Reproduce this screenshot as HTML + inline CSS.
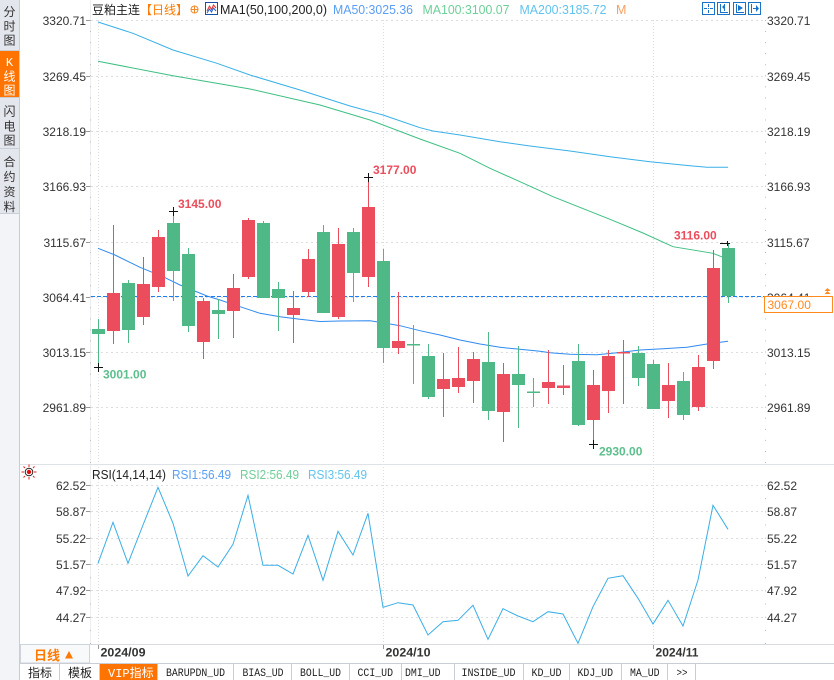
<!DOCTYPE html>
<html><head><meta charset="utf-8"><style>
html,body{margin:0;padding:0;background:#fff;width:834px;height:680px;overflow:hidden}
svg{display:block}
text{font-family:"Liberation Sans","Noto Sans CJK SC",sans-serif}
.ax{font-size:12px;fill:#333}
.cj{font-family:"Liberation Sans","Noto Sans CJK SC",sans-serif}
.mono{font-family:"Liberation Mono","Noto Sans CJK SC",monospace;font-size:11px;fill:#222}
</style></head><body>
<svg width="834" height="680" viewBox="0 0 834 680" xmlns="http://www.w3.org/2000/svg">
<!-- sidebar -->
<rect x="0" y="0" width="19.5" height="680" fill="#f3f4f8"/>
<rect x="0" y="0" width="19.5" height="50" fill="#e4e6ed"/>
<rect x="0" y="51" width="19.5" height="46" fill="#ff7300"/>
<rect x="0" y="98" width="19.5" height="50" fill="#e4e6ed"/>
<rect x="0" y="149" width="19.5" height="64" fill="#e4e6ed"/>
<g stroke="#c9cdd6" stroke-width="1">
<line x1="0" y1="50.5" x2="19.5" y2="50.5"/>
<line x1="0" y1="97.5" x2="19.5" y2="97.5"/>
<line x1="0" y1="148.5" x2="19.5" y2="148.5"/>
<line x1="0" y1="213.5" x2="19.5" y2="213.5"/>
<line x1="19.5" y1="0" x2="19.5" y2="680"/>
</g>
<g font-size="12" text-anchor="middle" fill="#333">
<text x="9.5" y="16">分</text><text x="9.5" y="30.5">时</text><text x="9.5" y="44.5">图</text>
<text x="9.5" y="66" fill="#fff" style="font-family:'Liberation Mono',monospace">K</text><text x="9.5" y="80.5" fill="#fff">线</text><text x="9.5" y="94.5" fill="#fff">图</text>
<text x="9.5" y="115.5">闪</text><text x="9.5" y="130.5">电</text><text x="9.5" y="144.5">图</text>
<text x="9.5" y="166">合</text><text x="9.5" y="181">约</text><text x="9.5" y="196">资</text><text x="9.5" y="211">料</text>
</g>

<!-- axis lines -->
<line x1="90.5" y1="0" x2="90.5" y2="644" stroke="#eceef2"/>
<line x1="90.5" y1="20" x2="90.5" y2="464" stroke="#b8bcc4" stroke-dasharray="1 10.05"/>
<line x1="765.5" y1="20" x2="765.5" y2="464" stroke="#b8bcc4" stroke-dasharray="1 10.05"/>
<line x1="90.5" y1="485" x2="90.5" y2="644" stroke="#b8bcc4" stroke-dasharray="1 12.17"/>
<line x1="765.5" y1="485" x2="765.5" y2="644" stroke="#b8bcc4" stroke-dasharray="1 12.17"/>

<!-- main grid -->
<g stroke="#dcdee3" stroke-dasharray="2 3">
<line x1="91" y1="20.5" x2="765" y2="20.5"/>
<line x1="91" y1="76.5" x2="765" y2="76.5"/>
<line x1="91" y1="131.5" x2="765" y2="131.5"/>
<line x1="91" y1="186.5" x2="765" y2="186.5"/>
<line x1="91" y1="242.5" x2="765" y2="242.5"/>
<line x1="91" y1="297.5" x2="765" y2="297.5"/>
<line x1="91" y1="352.5" x2="765" y2="352.5"/>
<line x1="91" y1="407.5" x2="765" y2="407.5"/>
<line x1="91" y1="485.5" x2="765" y2="485.5"/>
<line x1="91" y1="511.5" x2="765" y2="511.5"/>
<line x1="91" y1="538.5" x2="765" y2="538.5"/>
<line x1="91" y1="564.5" x2="765" y2="564.5"/>
<line x1="91" y1="590.5" x2="765" y2="590.5"/>
<line x1="91" y1="617.5" x2="765" y2="617.5"/>
</g>
<g stroke="#dcdee3" stroke-dasharray="1 2">
<line x1="98.5" y1="20" x2="98.5" y2="644"/>
<line x1="383.5" y1="20" x2="383.5" y2="644"/>
<line x1="653.5" y1="20" x2="653.5" y2="644"/>
</g>
<!-- major ticks -->
<g stroke="#999">
<line x1="86" y1="20.5" x2="90" y2="20.5"/><line x1="86" y1="76.5" x2="90" y2="76.5"/><line x1="86" y1="131.5" x2="90" y2="131.5"/><line x1="86" y1="186.5" x2="90" y2="186.5"/><line x1="86" y1="242.5" x2="90" y2="242.5"/><line x1="86" y1="297.5" x2="90" y2="297.5"/><line x1="86" y1="352.5" x2="90" y2="352.5"/><line x1="86" y1="407.5" x2="90" y2="407.5"/>
<line x1="86" y1="485.5" x2="90" y2="485.5"/><line x1="86" y1="511.5" x2="90" y2="511.5"/><line x1="86" y1="538.5" x2="90" y2="538.5"/><line x1="86" y1="564.5" x2="90" y2="564.5"/><line x1="86" y1="590.5" x2="90" y2="590.5"/><line x1="86" y1="617.5" x2="90" y2="617.5"/>
</g>

<!-- separators -->
<line x1="20" y1="464.5" x2="834" y2="464.5" stroke="#dfe3e8"/>
<line x1="20" y1="644.5" x2="834" y2="644.5" stroke="#d8dce2"/>

<!-- header -->
<text x="92" y="14" font-size="12" fill="#222">豆粕主连</text>
<text x="140" y="14" font-size="12" fill="#ff7a00">【日线】</text>
<circle cx="194.5" cy="9.5" r="3.5" fill="none" stroke="#f08a2a"/>
<line x1="190.5" y1="9.5" x2="198.5" y2="9.5" stroke="#f08a2a"/>
<line x1="194.5" y1="5.5" x2="194.5" y2="13.5" stroke="#f08a2a"/>
<rect x="205.5" y="2.5" width="12" height="12" fill="#fff" stroke="#1a4fa8"/>
<polyline points="207,11 209.5,6 211.5,9.5 213.5,5 216,8" fill="none" stroke="#e03030"/>
<polyline points="207,13 209.5,9 211.5,12 213.5,8 216,11" fill="none" stroke="#2a60d0"/>
<text x="220" y="14" font-size="12.5" fill="#222" textLength="107" lengthAdjust="spacingAndGlyphs">MA1(50,100,200,0)</text>
<text x="333" y="14" font-size="12.5" fill="#5a9ef5" textLength="80" lengthAdjust="spacingAndGlyphs">MA50:3025.36</text>
<text x="422.5" y="14" font-size="12.5" fill="#6dcf98" textLength="87" lengthAdjust="spacingAndGlyphs">MA100:3100.07</text>
<text x="519.5" y="14" font-size="12.5" fill="#62c3ee" textLength="87" lengthAdjust="spacingAndGlyphs">MA200:3185.72</text>
<text x="616" y="14" font-size="12.5" fill="#f7a060">M</text>

<!-- top-right icons -->
<g fill="none" stroke="#1a73c8">
<rect x="702.5" y="2.5" width="12" height="12"/>
<rect x="717.5" y="2.5" width="12" height="12"/>
<rect x="733.5" y="2.5" width="12" height="12"/>
<rect x="748.5" y="2.5" width="12" height="12"/>
</g>
<g fill="#1a73c8">
<rect x="708" y="4" width="1" height="3"/><rect x="708" y="10" width="1" height="3"/><rect x="704" y="8" width="3" height="1"/><rect x="710" y="8" width="3" height="1"/><rect x="708" y="8" width="1" height="1"/>
<rect x="720" y="4" width="1" height="9"/><rect x="720" y="12" width="8" height="1"/><rect x="724" y="4" width="1" height="7"/><polygon points="722,7 724,5 724,9"/>
<rect x="736" y="4" width="1" height="9"/><rect x="736" y="12" width="8" height="1"/><polygon points="738,5 743,8 738,11"/>
<rect x="751" y="4" width="1" height="9"/><rect x="753" y="8" width="4" height="1"/><polygon points="756,5 759,8.5 756,12"/>
</g>

<!-- MA lines -->
<polyline fill="none" stroke="#38b0e8" stroke-width="1" points="98,22 133,33.3 173,50 217,63.3 250,75 300,90 350,106 383,115 420,127.7 433,131 460,135 500,141.7 530,146 570,151 610,156.7 650,161.7 690,165.7 707,167.3 728,167.3"/>
<polyline fill="none" stroke="#3dbf82" stroke-width="1" points="98,61.3 173,75.7 250,89 320,105 370,120 420,139 460,153.3 490,168.3 520,181.7 553,196.7 610,219.3 643,233 673,246.7 713,253.3 728,259.3"/>
<polyline fill="none" stroke="#2f8af0" stroke-width="1" points="98,248.3 115,255 140,267.3 163,276.7 180,285 207,296 220,300 240,306.7 260,313.3 280,316.7 300,319.3 320,321.5 340,321 370,320.7 390,324 400,325.7 420,330.7 440,335 460,340 480,344 500,347.3 520,349.3 540,351.3 550,352.7 570,354.3 597,354.7 617,352.7 640,350 663,348.7 687,347.3 707,344 728,341.3"/>

<!-- dashed last price line -->
<line x1="91" y1="296.5" x2="765" y2="296.5" stroke="#1f7fef" stroke-dasharray="4 2"/>

<!-- candles -->
<g id="c">
<!-- green -->
<g fill="#4fb887">
<rect x="98" y="319" width="1" height="48"/><rect x="92" y="329" width="13" height="5"/>
<rect x="128" y="280" width="1" height="63"/><rect x="122" y="283" width="13" height="47"/>
<rect x="173" y="211" width="1" height="90"/><rect x="167" y="223" width="13" height="48"/>
<rect x="188" y="248" width="1" height="84"/><rect x="182" y="254" width="13" height="72"/>
<rect x="218" y="299" width="1" height="40"/><rect x="212" y="310" width="13" height="4"/>
<rect x="263" y="221" width="1" height="77"/><rect x="257" y="223" width="13" height="75"/>
<rect x="278" y="282" width="1" height="49"/><rect x="272" y="289" width="13" height="9"/>
<rect x="323" y="225" width="1" height="88"/><rect x="317" y="232" width="13" height="81"/>
<rect x="353" y="228" width="1" height="74"/><rect x="347" y="232" width="13" height="41"/>
<rect x="383" y="249" width="1" height="114"/><rect x="377" y="261" width="13" height="87"/>
<rect x="413" y="325" width="1" height="59"/><rect x="407" y="344" width="13" height="1.5"/>
<rect x="428" y="344" width="1" height="55"/><rect x="422" y="356" width="13" height="41"/>
<rect x="488" y="332" width="1" height="88"/><rect x="482" y="362" width="13" height="49"/>
<rect x="518" y="346" width="1" height="82"/><rect x="512" y="374" width="13" height="11"/>
<rect x="533" y="378" width="1" height="29"/><rect x="527" y="391.5" width="13" height="1.5"/>
<rect x="578" y="344" width="1" height="82"/><rect x="572" y="361" width="13" height="64"/>
<rect x="638" y="346" width="1" height="40"/><rect x="632" y="353" width="13" height="25"/>
<rect x="653" y="360" width="1" height="49"/><rect x="647" y="364" width="13" height="45"/>
<rect x="683" y="372" width="1" height="48"/><rect x="677" y="381" width="13" height="34"/>
<rect x="728" y="243" width="1" height="60"/><rect x="722" y="248" width="13" height="48"/>
</g>
<g fill="#eb4d5c">
<rect x="113" y="225" width="1" height="119"/><rect x="107" y="293" width="13" height="38"/>
<rect x="143" y="257" width="1" height="68"/><rect x="137" y="284" width="13" height="33"/>
<rect x="158" y="230" width="1" height="62"/><rect x="152" y="237" width="13" height="50"/>
<rect x="203" y="298" width="1" height="61"/><rect x="197" y="301" width="13" height="41"/>
<rect x="233" y="274" width="1" height="64"/><rect x="227" y="288" width="13" height="23"/>
<rect x="248" y="218" width="1" height="61"/><rect x="242" y="220" width="13" height="57"/>
<rect x="293" y="291" width="1" height="52"/><rect x="287" y="308" width="13" height="7"/>
<rect x="308" y="249" width="1" height="48"/><rect x="302" y="259" width="13" height="33"/>
<rect x="338" y="228" width="1" height="91"/><rect x="332" y="244" width="13" height="73"/>
<rect x="368" y="177" width="1" height="110"/><rect x="362" y="207" width="13" height="70"/>
<rect x="398" y="292" width="1" height="62"/><rect x="392" y="341" width="13" height="7"/>
<rect x="443" y="353" width="1" height="64"/><rect x="437" y="379" width="13" height="10"/>
<rect x="458" y="347" width="1" height="46"/><rect x="452" y="378" width="13" height="9"/>
<rect x="473" y="352" width="1" height="51"/><rect x="467" y="359" width="13" height="22"/>
<rect x="503" y="363" width="1" height="79"/><rect x="497" y="374" width="13" height="38"/>
<rect x="548" y="350" width="1" height="54"/><rect x="542" y="382" width="13" height="6"/>
<rect x="563" y="365" width="1" height="30"/><rect x="557" y="385.5" width="13" height="2.5"/>
<rect x="593" y="370" width="1" height="74"/><rect x="587" y="385" width="13" height="35"/>
<rect x="608" y="350" width="1" height="63"/><rect x="602" y="356" width="13" height="35"/>
<rect x="623" y="340" width="1" height="64"/><rect x="617" y="352" width="13" height="1.5"/>
<rect x="668" y="363" width="1" height="55"/><rect x="662" y="385" width="13" height="16"/>
<rect x="698" y="355" width="1" height="56"/><rect x="692" y="367" width="13" height="40"/>
<rect x="713" y="250" width="1" height="119"/><rect x="707" y="268" width="13" height="93"/>
</g>
</g>

<!-- markers -->
<g stroke="#111" stroke-width="1">
<line x1="169" y1="211.5" x2="178" y2="211.5"/><line x1="173.5" y1="207" x2="173.5" y2="216"/>
<line x1="364" y1="177.5" x2="373" y2="177.5"/><line x1="368.5" y1="173" x2="368.5" y2="182"/>
<line x1="94" y1="367.5" x2="103" y2="367.5"/><line x1="98.5" y1="363" x2="98.5" y2="372"/>
<line x1="589" y1="444.5" x2="598" y2="444.5"/><line x1="593.5" y1="440" x2="593.5" y2="449"/>
<line x1="720" y1="243.5" x2="730" y2="243.5"/><line x1="727.5" y1="241" x2="727.5" y2="246"/>
</g>
<g font-size="12" font-weight="bold">
<text x="178" y="208" fill="#eb4d5c">3145.00</text>
<text x="373" y="174" fill="#eb4d5c">3177.00</text>
<text x="674" y="239.5" fill="#eb4d5c">3116.00</text>
<text x="103" y="378.5" fill="#5cbf8c">3001.00</text>
<text x="599" y="455.5" fill="#5cbf8c">2930.00</text>
</g>

<!-- left axis labels main -->
<g class="ax" text-anchor="end">
<text x="86" y="25">3320.71</text>
<text x="86" y="81">3269.45</text>
<text x="86" y="136">3218.19</text>
<text x="86" y="191">3166.93</text>
<text x="86" y="247">3115.67</text>
<text x="86" y="302">3064.41</text>
<text x="86" y="357">3013.15</text>
<text x="86" y="412">2961.89</text>
<text x="86" y="490">62.52</text>
<text x="86" y="516">58.87</text>
<text x="86" y="543">55.22</text>
<text x="86" y="569">51.57</text>
<text x="86" y="595">47.92</text>
<text x="86" y="622">44.27</text>
</g>
<g class="ax">
<text x="767" y="25">3320.71</text>
<text x="767" y="81">3269.45</text>
<text x="767" y="136">3218.19</text>
<text x="767" y="191">3166.93</text>
<text x="767" y="247">3115.67</text>
<text x="767" y="302">3064.41</text>
<text x="767" y="357">3013.15</text>
<text x="767" y="412">2961.89</text>
<text x="767" y="490">62.52</text>
<text x="767" y="516">58.87</text>
<text x="767" y="543">55.22</text>
<text x="767" y="569">51.57</text>
<text x="767" y="595">47.92</text>
<text x="767" y="622">44.27</text>
</g>
<!-- last price box -->
<rect x="764.5" y="296.5" width="68" height="16" fill="#fff" stroke="#ff8a1f"/>
<text x="767.5" y="309" font-size="12" fill="#ff8a1f">3067.00</text>
<polygon points="824.5,291 827.5,288 830.5,291" fill="#ff8a1f"/>
<polygon points="824.5,294 827.5,291 830.5,294" fill="#ff8a1f"/>

<!-- RSI header -->
<g>
<line x1="29" y1="464.5" x2="29" y2="467" stroke="#e02020"/>
<line x1="29" y1="477" x2="29" y2="479.5" stroke="#e02020"/>
<line x1="21.5" y1="472" x2="24" y2="472" stroke="#e02020"/>
<line x1="34" y1="472" x2="36.5" y2="472" stroke="#e02020"/>
<line x1="23.5" y1="466.5" x2="25" y2="468" stroke="#e02020"/>
<line x1="33" y1="476" x2="34.5" y2="477.5" stroke="#e02020"/>
<line x1="34.5" y1="466.5" x2="33" y2="468" stroke="#e02020"/>
<line x1="25" y1="476" x2="23.5" y2="477.5" stroke="#e02020"/>
<circle cx="29" cy="472" r="3.8" fill="#fff" stroke="#222"/>
<circle cx="29" cy="472" r="2.2" fill="#e01010"/>
</g>
<text x="92" y="479" font-size="12.5" fill="#222" textLength="74" lengthAdjust="spacingAndGlyphs">RSI(14,14,14)</text>
<text x="172" y="479" font-size="12.5" fill="#5a9ef5" textLength="59" lengthAdjust="spacingAndGlyphs">RSI1:56.49</text>
<text x="240" y="479" font-size="12.5" fill="#6dcf98" textLength="59" lengthAdjust="spacingAndGlyphs">RSI2:56.49</text>
<text x="308" y="479" font-size="12.5" fill="#62c3ee" textLength="59" lengthAdjust="spacingAndGlyphs">RSI3:56.49</text>

<!-- RSI line -->
<polyline fill="none" stroke="#3aaee6" stroke-width="1" points="98,563.3 113,522.3 128,563.3 143,525 158,487.3 173,523.3 188,576 203,555.7 218,567 233,544.3 248,495.3 263,565.3 278,565.3 293,574 308,535.3 323,580.3 338,531.3 353,555 368,513.3 383,607.3 398,602.7 413,605 428,635 443,621.7 458,620.3 473,605.3 488,639.3 503,608.7 518,616 533,621.7 548,611.7 563,614 578,643.3 593,606.7 608,578.3 623,575.7 638,598.3 653,624 668,600.3 683,626 698,580 713,505.3 728,529.3"/>

<!-- date strip -->
<g stroke="#999"><line x1="98.5" y1="645" x2="98.5" y2="649"/><line x1="383.5" y1="645" x2="383.5" y2="649"/><line x1="653.5" y1="645" x2="653.5" y2="649"/></g>
<g font-size="12" font-weight="bold" fill="#333">
<text x="100.5" y="656.5" textLength="45" lengthAdjust="spacingAndGlyphs">2024/09</text>
<text x="385.5" y="656.5" textLength="45" lengthAdjust="spacingAndGlyphs">2024/10</text>
<text x="655.5" y="656.5" textLength="43" lengthAdjust="spacingAndGlyphs">2024/11</text>
</g>
<rect x="20.5" y="644.5" width="69" height="18.5" fill="#f8f9fb" stroke="#cfd3db"/>
<text x="34" y="660" font-size="13" font-weight="bold" fill="#ff7a00">日线</text>
<polygon points="65,658.5 73,658.5 69,651" fill="#ff7a00"/>

<!-- bottom tabs -->
<rect x="20" y="663.5" width="814" height="17" fill="#fff"/>
<line x1="20" y1="663.5" x2="834" y2="663.5" stroke="#c9cdd6"/>
<rect x="100" y="664" width="57" height="16" fill="#ff7300"/>
<g stroke="#c9cdd6">
<line x1="59.5" y1="664" x2="59.5" y2="680"/>
<line x1="99.5" y1="664" x2="99.5" y2="680"/>
<line x1="157.5" y1="664" x2="157.5" y2="680"/>
<line x1="233.5" y1="664" x2="233.5" y2="680"/>
<line x1="291.5" y1="664" x2="291.5" y2="680"/>
<line x1="349.5" y1="664" x2="349.5" y2="680"/>
<line x1="401.5" y1="664" x2="401.5" y2="680"/>
<line x1="454.5" y1="664" x2="454.5" y2="680"/>
<line x1="523.5" y1="664" x2="523.5" y2="680"/>
<line x1="569.5" y1="664" x2="569.5" y2="680"/>
<line x1="621.5" y1="664" x2="621.5" y2="680"/>
<line x1="667.5" y1="664" x2="667.5" y2="680"/>
<line x1="695.5" y1="664" x2="695.5" y2="680"/>
</g>
<text x="28" y="677" font-size="12" fill="#222">指标</text>
<text x="68" y="677" font-size="12" fill="#222">模板</text>
<text x="108" y="677" font-size="12" fill="#fff" style="font-family:'Liberation Mono','Noto Sans CJK SC',monospace">VIP指标</text>
<text class="mono" x="166" y="676" textLength="59" lengthAdjust="spacingAndGlyphs">BARUPDN_UD</text>
<text class="mono" x="242.5" y="676" textLength="41" lengthAdjust="spacingAndGlyphs">BIAS_UD</text>
<text class="mono" x="300" y="676" textLength="41" lengthAdjust="spacingAndGlyphs">BOLL_UD</text>
<text class="mono" x="357.5" y="676" textLength="35.5" lengthAdjust="spacingAndGlyphs">CCI_UD</text>
<text class="mono" x="405" y="676" textLength="35.5" lengthAdjust="spacingAndGlyphs">DMI_UD</text>
<text class="mono" x="461.5" y="676" textLength="54" lengthAdjust="spacingAndGlyphs">INSIDE_UD</text>
<text class="mono" x="531.5" y="676" textLength="30" lengthAdjust="spacingAndGlyphs">KD_UD</text>
<text class="mono" x="577.5" y="676" textLength="35.5" lengthAdjust="spacingAndGlyphs">KDJ_UD</text>
<text class="mono" x="630" y="676" textLength="29.5" lengthAdjust="spacingAndGlyphs">MA_UD</text>
<text class="mono" x="676.5" y="676" textLength="11" lengthAdjust="spacingAndGlyphs">&gt;&gt;</text>
</svg>
</body></html>
